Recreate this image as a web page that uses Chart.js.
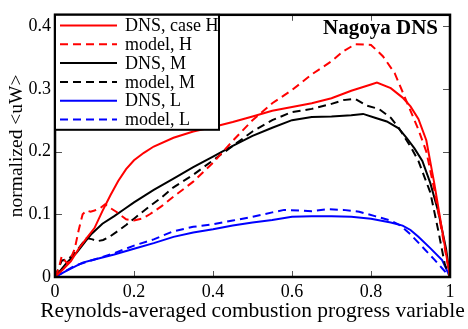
<!DOCTYPE html>
<html><head><meta charset="utf-8">
<script src="https://cdn.jsdelivr.net/npm/chart.js@4.4.1/dist/chart.umd.min.js"></script>
<style>html,body{margin:0;padding:0;background:#fff;}#wrap{width:468px;height:329px;}</style>
</head><body><div id="wrap"><canvas id="c" width="468" height="329"></canvas></div>
<script>
const seriesLabels = ['DNS, case H','model, H','DNS, M','model, M','DNS, L','model, L'];
const xTicks = [0,0.2,0.4,0.6,0.8,1];
const xTickLabels = ['0','0.2','0.4','0.6','0.8','1'];
const yTicks = [0,0.1,0.2,0.3,0.4];
const yTickLabels = ['0','0.1','0.2','0.3','0.4'];
const xTitle = 'Reynolds-averaged combustion progress variable';
const yTitle = 'normalized <uW>';
const panelTitle = 'Nagoya DNS';

const hDnsX = [0,0.02,0.04,0.06,0.08,0.1,0.12,0.14,0.16,0.18,0.2,0.225,0.25,0.3,0.35,0.4,0.45,0.5,0.55,0.6,0.65,0.7,0.75,0.8,0.815,0.85,0.88,0.9,0.92,0.94,0.96,0.98,1];
const hDnsY = [0,0.012,0.025,0.045,0.062,0.078,0.105,0.13,0.153,0.172,0.186,0.198,0.208,0.222,0.232,0.239,0.247,0.256,0.265,0.271,0.277,0.285,0.297,0.307,0.31,0.301,0.286,0.272,0.252,0.218,0.15,0.075,0];
const hModX = [0,0.01,0.017,0.025,0.032,0.04,0.05,0.06,0.07,0.08,0.09,0.1,0.115,0.127,0.14,0.155,0.18,0.2,0.22,0.24,0.27,0.3,0.35,0.4,0.45,0.5,0.55,0.6,0.65,0.7,0.73,0.76,0.8,0.83,0.86,0.89,0.92,0.94,0.96,0.98,1];
const hModY = [0,0.015,0.033,0.026,0.021,0.03,0.045,0.075,0.1,0.106,0.104,0.106,0.11,0.116,0.11,0.104,0.092,0.09,0.093,0.1,0.113,0.128,0.152,0.182,0.217,0.25,0.277,0.298,0.323,0.344,0.36,0.371,0.37,0.352,0.325,0.28,0.235,0.2,0.14,0.07,0];
const mDnsX = [0,0.03,0.055,0.08,0.093,0.12,0.15,0.175,0.2,0.225,0.25,0.3,0.35,0.4,0.45,0.5,0.55,0.6,0.65,0.7,0.75,0.78,0.81,0.84,0.87,0.89,0.91,0.93,0.95,0.97,0.99,1];
const mDnsY = [0,0.023,0.039,0.059,0.069,0.085,0.097,0.108,0.119,0.129,0.139,0.157,0.175,0.192,0.209,0.225,0.238,0.25,0.255,0.256,0.258,0.26,0.254,0.248,0.237,0.222,0.205,0.185,0.15,0.105,0.045,0];
const mModX = [0,0.017,0.034,0.05,0.065,0.08,0.095,0.106,0.122,0.14,0.156,0.18,0.2,0.24,0.27,0.3,0.35,0.4,0.45,0.5,0.55,0.6,0.65,0.7,0.73,0.76,0.79,0.82,0.85,0.87,0.9,0.92,0.95,0.97,0.987,1];
const mModY = [0,0.026,0.029,0.038,0.05,0.062,0.06,0.057,0.059,0.065,0.072,0.083,0.093,0.113,0.127,0.143,0.163,0.186,0.209,0.232,0.25,0.263,0.268,0.276,0.282,0.284,0.273,0.268,0.254,0.238,0.208,0.185,0.135,0.075,0.02,0];
const lDnsX = [0,0.03,0.07,0.1,0.15,0.2,0.25,0.3,0.35,0.4,0.45,0.5,0.55,0.6,0.65,0.7,0.75,0.8,0.85,0.88,0.9,0.92,0.95,0.98,1];
const lDnsY = [0,0.01,0.023,0.028,0.036,0.045,0.054,0.064,0.071,0.076,0.082,0.087,0.091,0.096,0.097,0.097,0.096,0.093,0.087,0.082,0.075,0.064,0.046,0.027,0];
const lModX = [0,0.05,0.1,0.15,0.2,0.25,0.3,0.35,0.4,0.45,0.5,0.55,0.58,0.62,0.65,0.69,0.73,0.77,0.81,0.85,0.875,0.9,0.93,0.96,0.98,1];
const lModY = [0,0.018,0.028,0.038,0.05,0.06,0.073,0.08,0.084,0.09,0.096,0.103,0.107,0.106,0.105,0.108,0.107,0.104,0.097,0.09,0.082,0.068,0.048,0.028,0.014,0];

const SERIF = "'Liberation Serif','DejaVu Serif',serif";
const pts = (xs, ys) => xs.map((x, i) => ({x, y: ys[i]}));
const DASH = [8,5];
function ds(label, xs, ys, color, dashed) {
  return {label, data: pts(xs, ys), borderColor: color, backgroundColor: color,
    borderWidth: 2, borderDash: dashed ? DASH : [], pointRadius: 0, tension: 0, fill: false};
}
const datasets = [
  ds(seriesLabels[0], hDnsX, hDnsY, '#ff0000', false),
  ds(seriesLabels[1], hModX, hModY, '#ff0000', true),
  ds(seriesLabels[2], mDnsX, mDnsY, '#000000', false),
  ds(seriesLabels[3], mModX, mModY, '#000000', true),
  ds(seriesLabels[4], lDnsX, lDnsY, '#0000ff', false),
  ds(seriesLabels[5], lModX, lModY, '#0000ff', true)
];

const framePlugin = {
  id: 'frame',
  afterDraw(chart) {
    const {ctx, chartArea: a, scales} = chart;
    ctx.save();
    ctx.strokeStyle = '#555';
    ctx.lineWidth = 1;
    xTicks.forEach(v => {
      if (v === 0 || v === 1) return;
      const px = Math.round(scales.x.getPixelForValue(v)) + 0.5;
      ctx.beginPath(); ctx.moveTo(px, a.bottom); ctx.lineTo(px, a.bottom - 6); ctx.stroke();
      ctx.beginPath(); ctx.moveTo(px, a.top); ctx.lineTo(px, a.top + 6); ctx.stroke();
    });
    yTicks.forEach(v => {
      if (v === 0) return;
      const py = Math.round(scales.y.getPixelForValue(v)) + 0.5;
      ctx.beginPath(); ctx.moveTo(a.left, py); ctx.lineTo(a.left + 7, py); ctx.stroke();
      ctx.beginPath(); ctx.moveTo(a.right, py); ctx.lineTo(a.right - 7, py); ctx.stroke();
    });
    ctx.strokeStyle = '#000';
    ctx.lineWidth = 2.5;
    ctx.strokeRect(a.left, a.top, a.right - a.left, a.bottom - a.top);
    // x axis title (drawn without width compression)
    ctx.fillStyle = '#000';
    ctx.font = '21.5px ' + SERIF;
    ctx.textAlign = 'center';
    ctx.textBaseline = 'alphabetic';
    ctx.fillText(xTitle, (a.left + a.right) / 2, 317);
    // legend
    const bx = a.left, by = a.top, bw = 164, bh = 115;
    ctx.fillStyle = '#fff';
    ctx.fillRect(bx, by, bw, bh);
    ctx.lineWidth = 2;
    ctx.strokeRect(bx, by, bw, bh);
    ctx.font = '18px ' + SERIF;
    ctx.textBaseline = 'middle';
    ctx.textAlign = 'left';
    chart.data.datasets.forEach((d, i) => {
      const y = by + 10.7 + i * 18.8;
      ctx.strokeStyle = d.borderColor;
      ctx.lineWidth = 2;
      ctx.setLineDash(d.borderDash);
      ctx.beginPath(); ctx.moveTo(bx + 5, y); ctx.lineTo(bx + 62, y); ctx.stroke();
      ctx.setLineDash([]);
      ctx.fillStyle = '#000';
      ctx.fillText(d.label, bx + 70, y + 1);
    });
    ctx.font = 'bold 21px ' + SERIF;
    ctx.textAlign = 'right';
    ctx.textBaseline = 'alphabetic';
    ctx.fillStyle = '#000';
    ctx.fillText(panelTitle, a.right - 12, a.top + 19.5);
    ctx.restore();
  }
};

new Chart(document.getElementById('c'), {
  type: 'line',
  data: {datasets},
  options: {
    responsive: false,
    animation: false,
    devicePixelRatio: 1,
    layout: {padding: {top: 4, right: 18, left: 0, bottom: 0}},
    plugins: {legend: {display: false}, tooltip: {enabled: false}},
    scales: {
      x: {
        type: 'linear', min: 0, max: 1,
        grid: {display: false, drawTicks: false},
        border: {display: false},
        afterBuildTicks: s => { s.ticks = xTicks.map(v => ({value: v})); },
        afterFit: s => { s.height = 52; },
        ticks: {padding: 4, color: '#000', font: {family: SERIF, size: 18}, maxRotation: 0, autoSkip: false,
          callback: (v) => { const i = xTicks.indexOf(v); return i >= 0 ? xTickLabels[i] : ''; }},
        title: {display: false}
      },
      y: {
        type: 'linear', min: 0, max: 0.418,
        grid: {display: false, drawTicks: false},
        border: {display: false},
        afterBuildTicks: s => { s.ticks = yTicks.map(v => ({value: v})); },
        afterFit: s => { s.width = 55; },
        ticks: {padding: 4, color: '#000', font: {family: SERIF, size: 18}, autoSkip: false,
          callback: (v) => { const i = yTicks.indexOf(v); return i >= 0 ? yTickLabels[i] : ''; }},
        title: {display: true, text: yTitle, color: '#000', font: {family: SERIF, size: 19.5}, padding: {top: 5, bottom: 0}}
      }
    }
  },
  plugins: [framePlugin]
});
</script></body></html>
